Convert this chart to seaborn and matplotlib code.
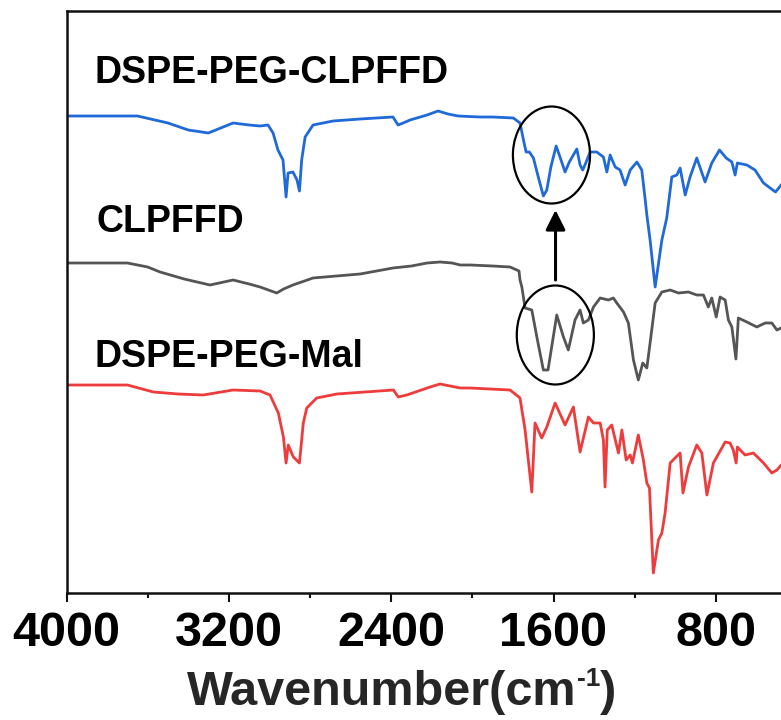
import numpy as np
import pandas as pd
import matplotlib
matplotlib.use("Agg")
import matplotlib.pyplot as plt
from matplotlib.patches import Ellipse
from matplotlib.ticker import MultipleLocator
import seaborn as sns

# ---- FTIR spectra (wavenumber in cm-1, stacked transmittance in a.u.) ----
wn_conj = [4000, 3800, 3650, 3500, 3400, 3301, 3240, 3179, 3100, 3046, 3007, 2982,
           2958, 2933, 2918, 2908, 2884, 2864, 2852, 2841, 2824, 2785, 2686, 2553,
           2391, 2366, 2341, 2307, 2223, 2169, 2120, 2070, 1962, 1900, 1798, 1765,
           1748, 1735, 1719, 1699, 1675, 1650, 1633, 1613, 1587, 1568, 1543, 1522,
           1485, 1469, 1456, 1439, 1420, 1387, 1354, 1337, 1321, 1296, 1272, 1247,
           1222, 1189, 1165, 1149, 1140, 1124, 1099, 1066, 1042, 1017, 992, 976,
           951, 927, 894, 853, 820, 782, 749, 721, 705, 694, 647, 607, 565, 506,
           478, 440, 400]
t_conj = [477, 477, 477, 470, 463, 460, 465, 470, 468, 467, 468, 460,
          443, 433, 396, 420, 421, 413, 402, 433, 456, 468, 472, 474,
          476, 468, 470, 473, 478, 482, 479, 477, 476, 476, 475, 470,
          453, 441, 441, 435, 416, 397, 403, 426, 447, 436, 421, 431,
          444, 428, 423, 431, 441, 441, 436, 421, 438, 426, 423, 408,
          423, 431, 423, 395, 378, 353, 306, 353, 375, 416, 418, 425,
          398, 416, 435, 411, 430, 443, 435, 431, 418, 430, 428, 423, 410, 401,
          408, 418, 422]

wn_pep = [4000, 3700, 3600, 3539, 3420, 3293, 3179, 3100, 3046, 2964, 2930, 2884,
          2785, 2670, 2553, 2391, 2300, 2223, 2159, 2100, 2060, 2011, 1900, 1814,
          1770, 1765, 1756, 1740, 1707, 1682, 1650, 1627, 1584, 1551, 1527, 1494,
          1469, 1453, 1428, 1403, 1370, 1329, 1305, 1288, 1255, 1231, 1206, 1182,
          1160, 1140, 1124, 1099, 1066, 1025, 984, 935, 894, 861, 837, 820, 798,
          779, 754, 738, 721, 701, 689, 647, 598, 557, 524, 499, 478, 440, 400]
t_pep = [330, 330, 326, 321, 314, 308, 313, 309, 306, 300, 304, 308,
         315, 317, 319, 325, 327, 330, 331, 330, 328, 328, 327, 326,
         322, 313, 306, 285, 283, 256, 223, 223, 278, 256, 243, 273,
         283, 270, 273, 286, 295, 293, 295, 290, 281, 270, 233, 213,
         230, 225, 250, 290, 301, 303, 300, 301, 298, 298, 286, 295, 276,
         296, 293, 273, 266, 234, 275, 271, 266, 270, 270, 263, 265, 262, 260]

wn_mal = [4000, 3700, 3572, 3450, 3326, 3179, 3046, 2997, 2956, 2931, 2918, 2907,
          2882, 2852, 2833, 2816, 2767, 2668, 2389, 2365, 2323, 2208, 2159, 2060,
          2011, 1814, 1765, 1740, 1707, 1691, 1658, 1633, 1592, 1543, 1502, 1469,
          1428, 1403, 1370, 1354, 1346, 1335, 1313, 1280, 1263, 1242, 1222, 1211,
          1182, 1157, 1140, 1127, 1108, 1083, 1066, 1050, 1025, 1001, 976, 962,
          935, 894, 869, 844, 812, 754, 730, 714, 700, 694, 656, 615, 565, 524,
          499, 478, 440, 400]
t_mal = [208, 208, 201, 199, 198, 203, 202, 198, 180, 156, 130, 148,
         136, 130, 170, 185, 195, 199, 203, 196, 198, 206, 209, 205,
         205, 203, 195, 163, 101, 170, 155, 166, 190, 168, 186, 141,
         176, 170, 170, 153, 106, 163, 168, 140, 163, 133, 138, 130,
         158, 133, 110, 105, 20, 53, 60, 80, 130, 135, 140, 100,
         126, 148, 140, 98, 130, 151, 150, 143, 130, 146, 138, 140, 130, 120,
         123, 128, 130, 132]

sample_names = ["DSPE-PEG-CLPFFD", "CLPFFD", "DSPE-PEG-Mal"]
line_colors = ["#1f6ad8", "#555555", "#ee3b3b"]

x_major = [4000, 3200, 2400, 1600, 800]

sns.set_theme(style="white")
plt.rcParams["font.family"] = ["Liberation Sans", "DejaVu Sans"]
plt.rcParams["font.weight"] = "bold"

W, H = 781, 720
fig = plt.figure(figsize=(W / 100, H / 100), dpi=100)
# axes runs on to 400 cm-1, a little past the right edge of the canvas
ax = fig.add_axes([66.5 / W, (H - 593) / H, (797 - 66.5) / W, 582 / H])

frames = []
for name, wn, t in zip(sample_names, [wn_conj, wn_pep, wn_mal], [t_conj, t_pep, t_mal]):
    frames.append(pd.DataFrame({"wavenumber": wn, "T": t, "sample": name}))
df = pd.concat(frames, ignore_index=True)

sns.lineplot(data=df, x="wavenumber", y="T", hue="sample", hue_order=sample_names,
             palette=line_colors, sort=False, estimator=None, linewidth=2.0,
             legend=False, ax=ax)

ax.set_xlim(4000, 400)
ax.set_ylim(0, 582)
ax.set_xticks(x_major)
ax.xaxis.set_minor_locator(MultipleLocator(400))
ax.set_yticks([])
ax.set_ylabel("")
ax.set_xlabel("")

for side in ["top", "bottom", "left", "right"]:
    ax.spines[side].set_linewidth(1.8)
    ax.spines[side].set_color("#111111")
ax.tick_params(axis="x", which="major", direction="out", length=6.5, width=1.5,
               labelsize=35, pad=6.5, bottom=True, top=False, colors="#111111",
               labelcolor="black")
ax.tick_params(axis="x", which="minor", direction="out", length=3.5, width=1.5,
               bottom=True, top=False, colors="#111111")
for lbl in ax.get_xticklabels():
    lbl.set_fontweight("bold")

# sample labels
label_pos = [(3860, 510), (3851, 361), (3860, 226)]
for name, (lx, ly) in zip(sample_names, label_pos):
    ax.text(lx, ly, name, fontsize=27, fontweight="bold", ha="left", va="baseline",
            color="black")

# circled amide region and the arrow linking it
ax.add_patch(Ellipse((1610, 438), width=380, height=97, fill=False, lw=1.6,
                     edgecolor="black", zorder=5))
ax.add_patch(Ellipse((1591, 258), width=380, height=99, fill=False, lw=1.6,
                     edgecolor="black", zorder=5))
ax.annotate("", xy=(1590, 383), xytext=(1590, 313),
            arrowprops=dict(arrowstyle="-|>,head_length=0.6,head_width=0.3",
                            lw=2.2, color="black", mutation_scale=20,
                            shrinkA=0, shrinkB=0))

# x-axis title with a raised "-1", assembled piece by piece
fig.canvas.draw()
renderer = fig.canvas.get_renderer()
base_y = (H - 705) / H
sup_y = (H - 686) / H
t_main = fig.text(0, base_y, "Wavenumber(cm", fontsize=35, fontweight="bold",
                  ha="left", va="baseline")
t_sup = fig.text(0, sup_y, "-1", fontsize=19, fontweight="bold",
                 ha="left", va="baseline")
t_close = fig.text(0, base_y, ")", fontsize=35, fontweight="bold",
                   ha="left", va="baseline")
w_main = t_main.get_window_extent(renderer).width
w_sup = t_sup.get_window_extent(renderer).width
w_close = t_close.get_window_extent(renderer).width
total = w_main + w_sup + w_close
x0 = 402 - total / 2
t_main.set_x(x0 / W)
t_sup.set_x((x0 + w_main) / W)
t_close.set_x((x0 + w_main + w_sup) / W)

fig.savefig("out.png", dpi=100)
